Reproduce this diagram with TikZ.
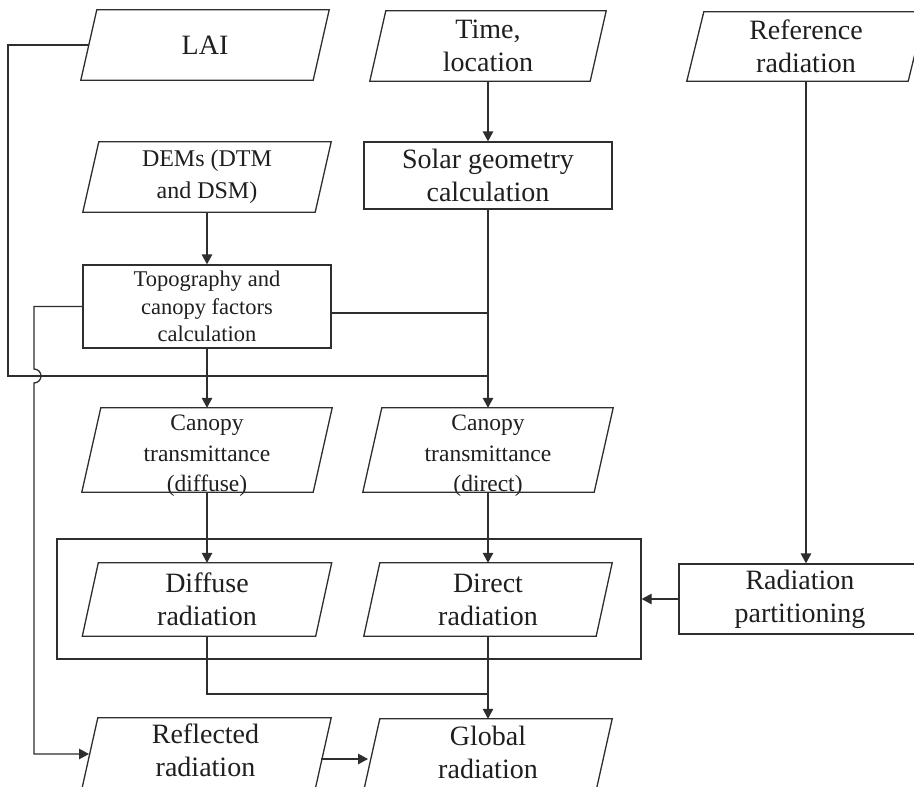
\documentclass[tikz,border=0pt]{standalone}
\usepackage{fontspec}
\setmainfont{Liberation Serif}
\usetikzlibrary{calc,arrows.meta}
\newcommand{\paral}[2]{\draw[ln] ($(#1.north west)+(#2,0)$) -- ($(#1.north east)+(#2,0)$) -- ($(#1.south east)+(-#2,0)$) -- ($(#1.south west)+(-#2,0)$) -- cycle;}
\begin{document}
\begin{tikzpicture}[x=1pt,y=-1pt,
  every node/.style={inner sep=0pt, text=black!88, align=center},
  ln/.style={draw=black!82, line width=1.3pt},
  arr/.style={ln, -{Triangle[length=10pt,width=10.5pt]}},
  rbox/.style={draw=black!82, line width=1.3pt},
  big/.style={font=\fontsize{28}{33}\selectfont},
  mid/.style={font=\fontsize{24}{32}\selectfont},
  small/.style={font=\fontsize{22.5}{27.5}\selectfont},
  can/.style={font=\fontsize{23.5}{30.5}\selectfont}
]
\useasboundingbox (0,0) rectangle (914,787);
\clip (0,0) rectangle (914,787);
\fill[white] (0,0) rectangle (914,787);

% shape nodes
\node[big, minimum width=232pt, minimum height=70pt] (lai) at (205,45) {LAI};
\node[big, minimum width=220pt, minimum height=70pt] (time) at (488,46) {Time,\\location};
\node[big, minimum width=221pt, minimum height=69pt] (ref) at (806,46.5) {Reference\\radiation};
\node[mid, minimum width=232pt, minimum height=70pt] (dem) at (207,177) {DEMs (DTM\\and DSM)};
\node[big, rbox, minimum width=248pt, minimum height=67pt] (solar) at (488,175.5) {Solar geometry\\calculation};
\node[small, rbox, minimum width=248pt, minimum height=83pt] (topo) at (207,306.5) {Topography and\\canopy factors\\calculation};
\node[minimum width=231pt, minimum height=84pt] (cdif) at (207,450) {};
\node[minimum width=231pt, minimum height=84pt] (cdir) at (488,450) {};
\node[can] (cdiftxt) at (207,456) {Canopy\\transmittance\\(diffuse)};
\node[can] (cdirtxt) at (488,456) {Canopy\\transmittance\\(direct)};
\node[rbox, minimum width=584pt, minimum height=120pt] (grp) at (349,599) {};
\node[big, minimum width=233pt, minimum height=73pt] (dif) at (207,599.5) {Diffuse\\radiation};
\node[big, minimum width=232pt, minimum height=73pt] (dir) at (488,599.5) {Direct\\radiation};
\node[big, rbox, minimum width=242pt, minimum height=70pt] (rp) at (800,599) {Radiation\\partitioning};
\node[minimum width=233pt, minimum height=80pt] (refl) at (205.5,758) {};
\node[minimum width=232pt, minimum height=80pt] (glob) at (487,759) {};
\node[big] (refltxt) at (205.5,750) {Reflected\\radiation};
\node[big] (globtxt) at (488,752) {Global\\radiation};

% parallelograms
\paral{lai}{8}
\paral{time}{8}
\paral{ref}{8.5}
\paral{dem}{8}
\paral{cdif}{9.5}
\paral{cdir}{9.5}
\paral{dif}{8}
\paral{dir}{8}
\paral{refl}{9}
\paral{glob}{9}

% connectors
\draw[arr] (time.south) -- (solar.north);
\draw[arr] (dem.south) -- (topo.north);
\draw[arr] (topo.south) -- (cdif.north);
\draw[arr] (solar.south) -- (cdir.north);
\coordinate (te) at ($(topo.east)+(0,6.5)$);
\draw[ln] (te) -- (te -| solar.south);
\coordinate (lc) at (8,376);
\draw[ln] (lai.west) -- (lai.west -| lc) -- (lc) -- (lc -| solar.south);
\coordinate (tl) at (34,369);
\coordinate (rin) at (89,754);
\draw[arr] (topo.west) -- (topo.west -| tl) -- (tl) arc[start angle=90, end angle=-90, radius=7pt] -- (tl |- rin) -- (rin);
\draw[arr] (cdif.south) -- (dif.north);
\draw[arr] (cdir.south) -- (dir.north);
\coordinate (dj) at (207,694);
\draw[ln] (dif.south) -- (dif.south |- dj) -- (dj -| dir.south);
\draw[arr] (dir.south) -- (glob.north -| dir.south);
\coordinate (ra) at (321,759);
\coordinate (ga) at (368,759);
\draw[arr] (ra) -- (ga);
\draw[arr] (rp.west) -- (grp.east);
\draw[arr] (ref.south) -- (ref.south |- rp.north);
\end{tikzpicture}
\end{document}
